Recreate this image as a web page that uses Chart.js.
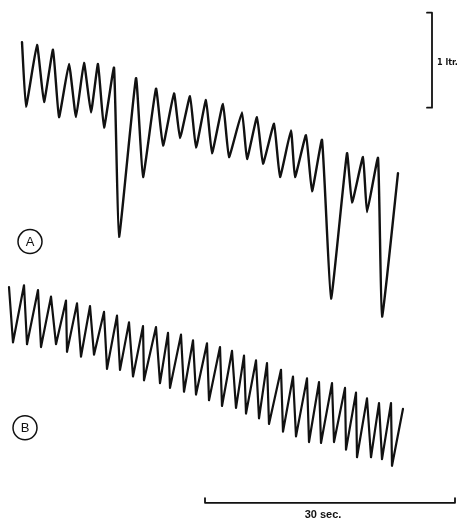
<!DOCTYPE html>
<html lang="en">
<head>
    <meta charset="UTF-8">
    <title>Spirogram A / B</title>
    <script src="https://cdn.jsdelivr.net/npm/chart.js@4.4.1/dist/chart.umd.min.js"></script>
    <style>
        body{
            margin: 0;
            background: #ffffff;
        }
        #wrap{
            width: 459px;
            height: 519px;
        }
    </style>
</head>
<body>
<div id="wrap">
    <canvas id="myChart" width="459" height="519"></canvas>
</div>
<script>
    // trace A : time (sec) and volume (ltr.)
    var timeA = [2.64, 3.12, 4.44, 5.28, 6.36, 7.08, 8.28, 9.12, 10.08, 10.92, 11.76, 12.48, 13.68, 14.28,
                 16.32, 17.16, 18.72, 19.56, 20.88, 21.6, 22.8, 23.52, 24.72, 25.44, 26.76, 27.48, 29.04, 29.64,
                 30.84, 31.56, 32.88, 33.6, 34.92, 35.4, 36.72, 37.44, 38.64, 39.72, 41.64, 42.24, 43.56, 44.04,
                 45.36, 45.84, 47.76];
    var volA = [5.02, 4.34, 4.99, 4.39, 4.94, 4.23, 4.79, 4.23, 4.80, 4.28, 4.79, 4.12, 4.75, 2.97,
                4.64, 3.60, 4.53, 3.93, 4.48, 4.01, 4.45, 3.91, 4.41, 3.85, 4.37, 3.81, 4.28, 3.79,
                4.23, 3.74, 4.16, 3.60, 4.09, 3.60, 4.04, 3.45, 3.99, 2.32, 3.85, 3.33, 3.81, 3.23,
                3.80, 2.13, 3.64];

    // trace B
    var timeB = [1.08, 1.56, 2.88, 3.24, 4.56, 4.92, 6.12, 6.72, 7.92, 8.04, 9.24, 9.72, 10.8, 11.28,
                 12.48, 12.84, 14.04, 14.4, 15.48, 15.96, 17.16, 17.28, 18.72, 19.2, 20.16, 20.4, 21.72, 22.08,
                 23.16, 23.52, 24.84, 25.08, 26.4, 26.64, 27.84, 28.32, 29.28, 29.52, 30.72, 31.08, 32.04, 32.28,
                 33.72, 33.96, 35.16, 35.52, 36.84, 37.08, 38.28, 38.52, 39.84, 40.08, 41.4, 41.52, 42.72, 42.84,
                 44.04, 44.52, 45.48, 45.84, 46.92, 47.04, 48.36];
    var volB = [2.44, 1.86, 2.46, 1.84, 2.41, 1.81, 2.34, 1.84, 2.30, 1.76, 2.27, 1.71, 2.24, 1.73,
                2.18, 1.58, 2.14, 1.57, 2.07, 1.50, 2.03, 1.46, 2.02, 1.43, 1.96, 1.38, 1.94, 1.34,
                1.88, 1.31, 1.85, 1.25, 1.81, 1.19, 1.77, 1.17, 1.72, 1.11, 1.67, 1.06, 1.64, 1.00,
                1.57, 0.92, 1.50, 0.87, 1.48, 0.81, 1.44, 0.80, 1.43, 0.81, 1.38, 0.73, 1.33, 0.65,
                1.27, 0.65, 1.22, 0.63, 1.22, 0.56, 1.16];

    // scale bars: 1 ltr. vertical, 30 sec. horizontal
    var literBarX = [51.24, 51.84, 51.84, 51.24];
    var literBarY = [5.33, 5.33, 4.33, 4.33];
    var secBarX = [24.6, 24.6, 54.6, 54.6];
    var secBarY = [0.22, 0.17, 0.17, 0.22];

    // labels
    var labelText = ['1 ltr.', '30 sec.'];
    var labelX = [52.44, 38.76];
    var labelY = [4.8, 0.04];
    var circleText = ['A', 'B'];
    var circleX = [3.6, 3.0];
    var circleY = [2.92, 0.96];

    function toPoints(xs, ys) {
        var pts = [];
        for (var i = 0; i < xs.length; i++) {
            pts.push({x: xs[i], y: ys[i]});
        }
        return pts;
    }

    function lineSet(xs, ys, width, tension) {
        return {
            data: toPoints(xs, ys),
            showLine: true,
            borderColor: '#111111',
            borderWidth: width,
            pointRadius: 0,
            tension: tension,
            borderJoinStyle: 'round',
            borderCapStyle: 'round',
            clip: false
        };
    }

    var textPlugin = {
        id: 'textPlugin',
        afterDatasetsDraw: function (chart) {
            var c = chart.ctx;
            var sx = chart.scales.x;
            var sy = chart.scales.y;
            c.save();
            c.fillStyle = '#111111';
            c.strokeStyle = '#111111';
            c.textBaseline = 'middle';

            c.font = 'bold 9px "Liberation Sans Narrow", "DejaVu Sans Condensed", sans-serif';
            c.textAlign = 'left';
            c.fillText(labelText[0], sx.getPixelForValue(labelX[0]), sy.getPixelForValue(labelY[0]));

            c.font = 'bold 11px "Liberation Sans", Arial, sans-serif';
            c.textAlign = 'center';
            c.fillText(labelText[1], sx.getPixelForValue(labelX[1]), sy.getPixelForValue(labelY[1]));

            c.lineWidth = 1.5;
            c.font = '13px "Liberation Sans", Arial, sans-serif';
            for (var i = 0; i < circleText.length; i++) {
                var px = sx.getPixelForValue(circleX[i]);
                var py = sy.getPixelForValue(circleY[i]);
                c.beginPath();
                c.arc(px, py, 12, 0, Math.PI * 2);
                c.stroke();
                c.fillText(circleText[i], px, py + 1);
            }
            c.restore();
        }
    };

    var ctx = document.getElementById('myChart').getContext('2d');
    var myChart = new Chart(ctx, {
        type: 'scatter',
        data: {
            datasets: [
                lineSet(timeA, volA, 2.4, 0.12),
                lineSet(timeB, volB, 2.2, 0),
                lineSet(literBarX, literBarY, 1.8, 0),
                lineSet(secBarX, secBarY, 1.8, 0)
            ]
        },
        options: {
            responsive: false,
            animation: false,
            layout: {padding: 0},
            scales: {
                x: {type: 'linear', min: 0, max: 55.08, display: false},
                y: {type: 'linear', min: 0, max: 5.4632, display: false}
            },
            plugins: {
                legend: {display: false},
                tooltip: {enabled: false}
            }
        },
        plugins: [textPlugin]
    });
</script>
</body>
</html>
